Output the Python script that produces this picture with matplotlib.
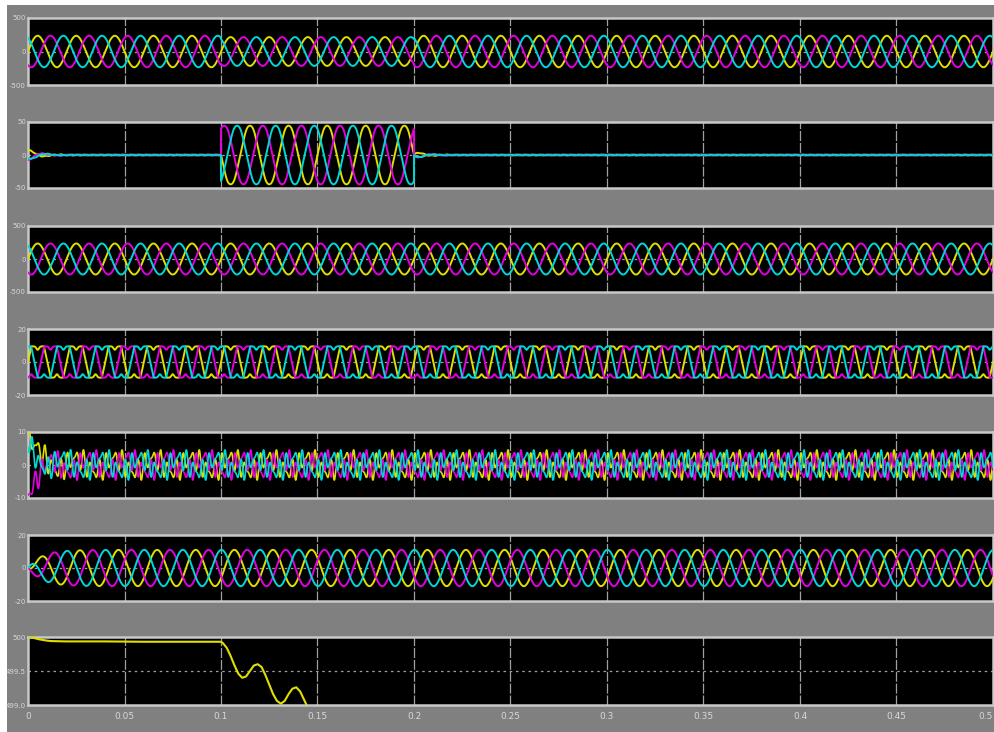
import numpy as np
import matplotlib
matplotlib.use("Agg")
import matplotlib.pyplot as plt

# ---------------- data ----------------
freq_hz = 50.0
t_end = 0.5
x_ticks = [0, 0.05, 0.1, 0.15, 0.2, 0.25, 0.3, 0.35, 0.4, 0.45, 0.5]
x_tick_labels = ['0', '0.05', '0.1', '0.15', '0.2', '0.25', '0.3', '0.35', '0.4', '0.45', '0.5']

# y limits and tick labels for each scope panel
y_limits = [(-500, 500), (-50, 50), (-500, 500), (-20, 20), (-10, 10), (-20, 20), (499.0, 500.0)]
y_ticks = [[-500, 0, 500], [-50, 0, 50], [-500, 0, 500], [-20, 0, 20], [-10, 0, 10], [-20, 0, 20], [499.0, 499.5, 500.0]]
y_tick_labels = [['-500', '0', '500'], ['-50', '0', '50'], ['-500', '0', '500'], ['-20', '0', '20'],
                 ['-10', '0', '10'], ['-20', '0', '20'], ['499.0', '499.5', '500']]

# panel 1: source voltage amplitude (sag between 0.1 and 0.2 s)
p1_seg_t = [0.0, 0.1, 0.2, 0.5]
p1_seg_amp = [235, 215, 235]
# panel 2: injected voltage amplitude in sag window
p2_sag_amp = 45
p2_start_transient = 8
p2_end_transient = 6
# panel 3: load voltage amplitude
p3_amp = 235
# panel 4: load current (notched flat-top) amplitude
p4_amp = 9.5
# panel 5: compensating current amplitudes (fundamental, 5th, 7th)
p5_amps = [2.0, 2.3, 1.5]
p5_start = [8.5, -7.5, 6.0]  # initial values (yellow, magenta, cyan)
# panel 6: source current amplitude
p6_amp = 11.0
# panel 7: DC-link voltage
p7_t = [0.0, 0.003, 0.006, 0.009, 0.012, 0.02, 0.04, 0.06, 0.08, 0.1, 0.101, 0.103, 0.105, 0.107,
        0.109, 0.111, 0.113, 0.115, 0.117, 0.119, 0.121, 0.123, 0.125, 0.127, 0.129, 0.131,
        0.133, 0.135, 0.137, 0.139, 0.141, 0.143, 0.145, 0.147]
p7_v = [500.0, 499.985, 499.965, 499.95, 499.94, 499.935, 499.935, 499.93, 499.93, 499.93, 499.91,
        499.84, 499.72, 499.58, 499.46, 499.40, 499.42, 499.50, 499.58, 499.60, 499.56, 499.44,
        499.30, 499.16, 499.06, 499.02, 499.06, 499.16, 499.24, 499.26, 499.20, 499.08, 498.96, 498.85]

colors = ['#e0e000', '#e000e0', '#00d8d8']  # yellow, magenta, cyan
phases = [0.0, -2 * np.pi / 3, 2 * np.pi / 3]

# ---------------- figure ----------------
W, H = 995, 732
fig = plt.figure(figsize=(W / 100, H / 100), dpi=100, facecolor='white')
bg = fig.add_axes([7 / W, 0, 1 - 7 / W, 1 - 5 / H], zorder=-5)
bg.set_facecolor('#808080')
bg.set_xticks([])
bg.set_yticks([])
for sp in bg.spines.values():
    sp.set_visible(False)

panel_px = [(18, 85), (122, 188), (226, 292), (329, 395), (432, 498), (535, 601), (637, 705)]
x_left, x_right = 28, 993

t = np.linspace(0, t_end, 8000)
w = 2 * np.pi * freq_hz


def sig_panel(i, ph):
    th = w * t + ph
    if i == 0:
        amp = np.where(t < p1_seg_t[1], p1_seg_amp[0], np.where(t < p1_seg_t[2], p1_seg_amp[1], p1_seg_amp[2]))
        return amp * np.sin(th)
    if i == 1:
        y = np.zeros_like(t)
        y += p2_start_transient * np.exp(-t / 0.006) * np.sin(th * 1.3 + 1.0)
        win = (t >= 0.1) & (t < 0.2)
        y[win] = p2_sag_amp * np.sin(th[win] + np.pi)
        after = t >= 0.2
        y[after] += p2_end_transient * np.exp(-(t[after] - 0.2) / 0.005) * np.sin(th[after] * 1.5)
        y += 0.6 * np.sin(5 * th)
        return y
    if i == 2:
        return p3_amp * np.sin(th)
    if i == 3:
        s = np.sin(th)
        flat = np.clip(1.9 * s, -1, 1)
        half = np.mod(th, np.pi) - np.pi / 2
        notch = 0.22 * np.sign(s) * np.exp(-(half / 0.3) ** 2)
        return p4_amp * (flat - notch)
    if i == 5:
        env = 1 - np.exp(-t / 0.007)
        return p6_amp * env * np.sin(th - 0.6)
    return None


for i, (top, bot) in enumerate(panel_px):
    ax = fig.add_axes([x_left / W, 1 - bot / H, (x_right - x_left) / W, (bot - top) / H], zorder=1)
    ax.set_facecolor('black')
    ax.set_xlim(0, t_end)
    ax.set_ylim(*y_limits[i])
    for xv in x_ticks[1:-1]:
        ax.axvline(xv, color='#a0a0a0', lw=0.9, ls=(0, (8, 1.5)), zorder=1)
    ax.axhline(y_ticks[i][1], color='#a0a0a0', lw=0.9, ls=(0, (2, 3)), zorder=1)

    if i == 6:
        ax.plot(p7_t, p7_v, color=colors[0], lw=1.5, zorder=3)
    elif i == 4:
        for k, ph in enumerate(phases):
            th = w * t + ph
            y = p5_amps[0] * np.sin(th) + p5_amps[1] * np.sin(5 * th + 0.4) + p5_amps[2] * np.sin(7 * th + 1.1)
            y = y + p5_start[k] * np.exp(-t / 0.005)
            ax.plot(t, y, color=colors[k], lw=1.2, zorder=3)
    else:
        for k, ph in enumerate(phases):
            ax.plot(t, sig_panel(i, ph), color=colors[k], lw=1.4, zorder=3)

    for sp in ax.spines.values():
        sp.set_color('#c8c8c8')
        sp.set_linewidth(1.8)
    ax.set_yticks(y_ticks[i])
    ax.set_yticklabels(y_tick_labels[i])
    ax.tick_params(axis='y', length=0, pad=1.5, labelsize=5, labelcolor='#d8d8d8')
    ax.set_xticks(x_ticks)
    if i == 6:
        labs = ax.set_xticklabels(x_tick_labels)
        labs[-1].set_horizontalalignment('right')
        ax.tick_params(axis='x', length=0, pad=5, labelsize=6.5, labelcolor='#d8d8d8')
    else:
        ax.set_xticklabels([])
        ax.tick_params(axis='x', length=0)

fig.savefig('out.png', dpi=100, facecolor=fig.get_facecolor())
